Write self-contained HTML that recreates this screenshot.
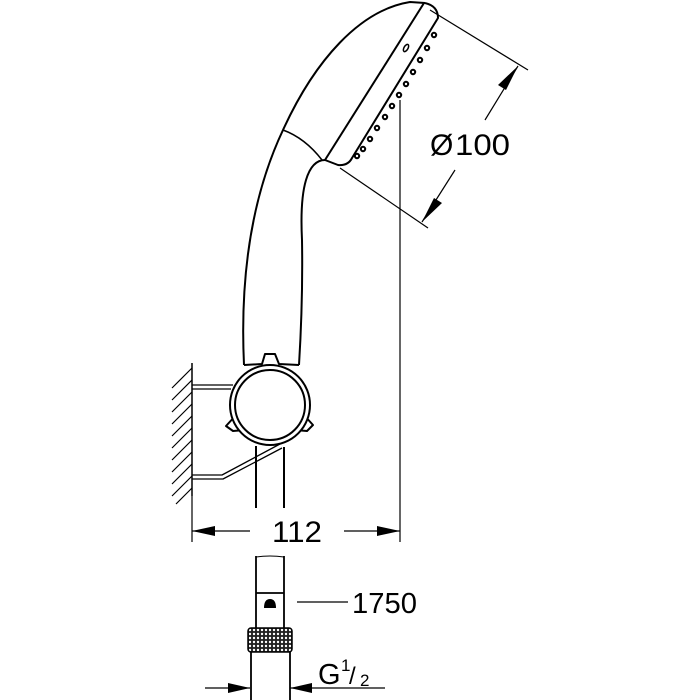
<!DOCTYPE html>
<html><head><style>
html,body{margin:0;padding:0;background:#fff}
svg{display:block}
text{font-family:"Liberation Sans",sans-serif;fill:#000}
</style></head><body>
<svg width="700" height="700" viewBox="0 0 700 700" xmlns="http://www.w3.org/2000/svg">
<defs>
<pattern id="kn" width="4" height="4" patternUnits="userSpaceOnUse">
<rect width="4" height="4" fill="#222"/><circle cx="2" cy="2" r="1.2" fill="#fff"/>
</pattern>
</defs>
<g fill="none" stroke="#000" stroke-width="2" stroke-linejoin="round">
<path d="M244,365 C240,280 250,200 283,130 C315,60 360,10 410,2 L425,3"/>
<path d="M424,3 L325,160"/>
<path d="M425,3 Q438,6 438,18 L352,158 Q348,166 338,165 L325,160"/>
<path d="M283,130 Q305,138 322,160" stroke-width="1.5"/>
<path d="M325,160 Q312,160 306,180 Q300,200 302,240 Q303,300 299,365"/>
<g stroke-width="2">
<circle cx="434" cy="35" r="2.2"/><circle cx="427" cy="48" r="2.2"/><circle cx="420" cy="60" r="2.2"/><circle cx="413" cy="72" r="2.2"/><circle cx="406" cy="84" r="2.2"/><circle cx="399" cy="95" r="2.2"/><circle cx="392" cy="106" r="2.2"/><circle cx="385" cy="117" r="2.2"/><circle cx="377" cy="128" r="2.2"/><circle cx="370" cy="139" r="2.2"/><circle cx="363" cy="149" r="2.2"/><circle cx="357" cy="156" r="2.2"/>
</g>
<ellipse cx="406" cy="48" rx="2" ry="4" transform="rotate(30 406 48)" stroke-width="1.5"/>
<g stroke-width="1.2">
<path d="M430,10 L528,70"/><path d="M340,168 L428,228"/>
<path d="M518,66 L485,120"/><path d="M455,170 L422,222"/>
<path d="M400,100 L400,542"/>
</g>
<path d="M192,363 L192,496" stroke-width="1.5"/>
<g stroke-width="1.2">
<path d="M192,368 L172,388 M192,380 L172,400 M192,392 L172,412 M192,404 L172,424 M192,416 L172,436 M192,428 L172,448 M192,440 L172,460 M192,452 L172,472 M192,464 L172,484 M192,476 L172,496 M192,488 L176,504"/>
</g>
<path d="M192,385 L233,385 M192,389 L231,389" stroke-width="1.3"/>
<path d="M192,475 L222,475 L280,444 M192,479 L223,479 L282,448" stroke-width="1.3"/>
<path d="M256,446 L256,508 M284,447 L284,508"/>
<path d="M244,365 L262,364 L265,354 L275,354 L279,364 L299,365"/>
<path d="M237,414 L226,426 L233,431 L245,430"/>
<path d="M303,414 L313,425 L307,431 L295,430"/>
<circle cx="270" cy="405" r="40" fill="#fff"/>
<circle cx="270" cy="405" r="35"/>
<g stroke-width="1.2"><path d="M192,496 L192,542 M192,531 L250,531 M344,531 L400,531"/></g>
<path d="M256,556 L256,628 M284,556 L284,628 M256,593 L284,593" stroke-width="1.8"/>
<path d="M256,557 Q270,555 284,557" stroke-width="1"/>
<path d="M297,602 L348,602" stroke-width="1.2"/>
<path d="M251,652 L251,700 M290,652 L290,700" stroke-width="1.8"/>
<g stroke-width="1.2"><path d="M205,688 L250,688 M290,688 L385,688"/></g>
</g>
<path d="M264,608 Q264,599 270,599 Q276,599 276,608 Z" fill="#000"/>
<rect x="248" y="628" width="44" height="24" rx="3" fill="url(#kn)" stroke="#000" stroke-width="1.5"/>
<g fill="#000">
<polygon points="518,66 506,90 498,85"/>
<polygon points="422,222 434,198 442,203"/>
<polygon points="192,531 215,526 215,536"/>
<polygon points="400,531 377,526 377,536"/>
<polygon points="250,688 228,683 228,693"/>
<polygon points="290,688 312,683 312,693"/>
</g>
<text x="430" y="155" font-size="30">Ø</text>
<text x="455" y="155" font-size="30" textLength="55" lengthAdjust="spacingAndGlyphs">100</text>
<text x="272" y="542" font-size="30" textLength="50" lengthAdjust="spacingAndGlyphs">112</text>
<text x="352" y="613" font-size="29" textLength="65" lengthAdjust="spacingAndGlyphs">1750</text>
<text x="318" y="684" font-size="29">G</text>
<text x="341" y="671" font-size="17">1</text>
<text x="349" y="684" font-size="24">/</text>
<text x="360" y="686" font-size="17">2</text>
</svg>
</body></html>
